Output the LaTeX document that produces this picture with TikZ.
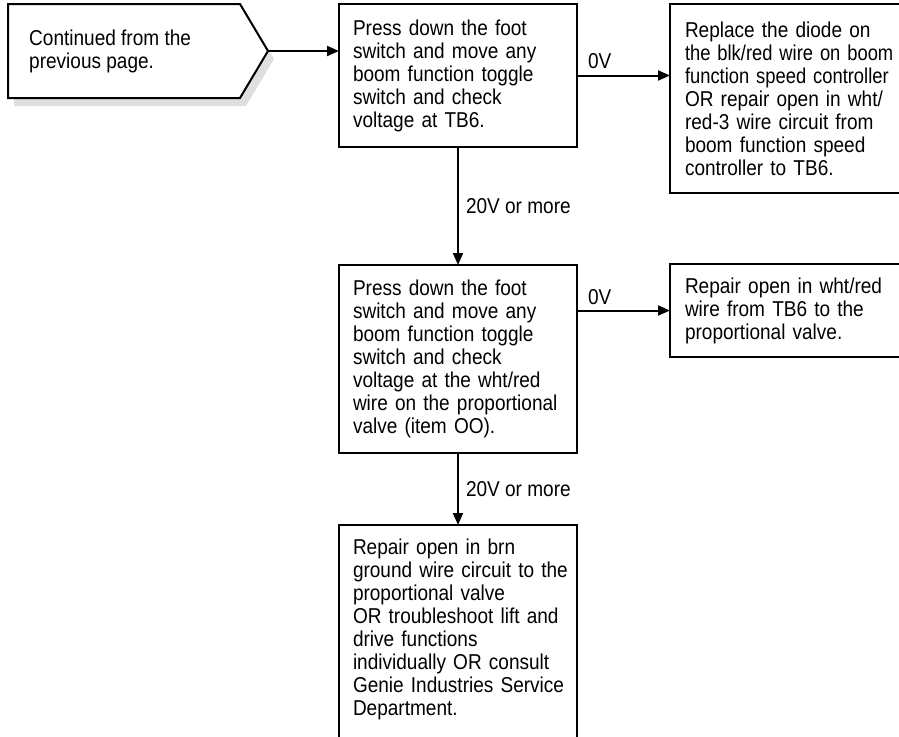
\documentclass[tikz,border=0pt]{standalone}
\usepackage{fontspec}
\usepackage{graphicx}
\setmainfont{Liberation Sans}[FakeStretch=0.885]
\usetikzlibrary{arrows.meta}
\newcommand\nb[1]{\mbox{#1}}
\newcommand\sq[1]{\scalebox{0.965}[1]{#1}}
\begin{document}
\begin{tikzpicture}[x=1pt,y=-1pt,
  txt/.style={font=\fontsize{21.5pt}{23pt}\selectfont},
  box/.style={txt, draw, line width=2pt, outer sep=0pt, anchor=north west, align=left,
              inner xsep=14pt, inner ysep=0pt, text width=210pt},
  rbox/.style={box, inner xsep=15pt, text width=230pt},
  conn/.style={line width=2pt, -{Triangle[length=12pt,width=10pt]}},
  lbl/.style={txt, inner sep=0pt, anchor=base west}]
\useasboundingbox (0,0) rectangle (899,736);
% start pentagon with shadow
\fill[gray!25] (14,12) -- (246,12) -- (274,59) -- (246,106) -- (14,106) -- cycle;
\draw[line width=2pt, fill=white, line join=miter] (8,4) -- (240,4) -- (268,51) -- (240,98) -- (8,98) -- cycle;
\node[txt, anchor=west, inner sep=0pt, align=left] (start) at (29,51) {Continued from the\\previous page.};
\coordinate (tip) at (268,51);
% boxes
\node[box, minimum height=143pt] (b1) at (339,4)
  {Press down the foot\\switch and move any\\boom function toggle\\switch and check\\voltage at TB6.};
\node[rbox, minimum height=189pt] (b2) at (670,4)
  {Replace the diode on\\\sq{the blk/red wire on boom}\\\sq{function speed controller}\\OR repair open in wht/\\red-3 wire circuit from\\boom function speed\\controller to TB6.};
\node[box, minimum height=188pt] (b3) at (339,265)
  {Press down the foot\\switch and move any\\boom function toggle\\switch and check\\\nb{voltage at the wht/red}\\\nb{wire on the proportional}\\valve (item OO).};
\node[rbox, minimum height=93pt] (b4) at (670,264)
  {Repair open in wht/red\\wire from TB6 to the\\proportional valve.};
\node[box, inner ysep=13.5pt, text depth=192pt] (b5) at (339,525)
  {Repair open in brn\\\nb{ground wire circuit to the}\\proportional valve\\\nb{OR troubleshoot lift and}\\drive functions\\\nb{individually OR consult}\\\nb{Genie Industries Service}\\Department.};
% connectors
\draw[conn] (tip) -- (tip -| b1.west);
\draw[conn] (b1.east) -- (b1.east -| b2.west)
  node[lbl, pos=0, xshift=10pt, yshift=7pt] (l1) {0V};
\draw[conn] (b1.south) -- (b3.north)
  node[txt, midway, anchor=west, inner sep=0pt, xshift=7pt] (l2) {20V or more};
\draw[conn] (b4.west -| b3.east) -- (b4.west)
  node[lbl, pos=0, xshift=10pt, yshift=6.5pt] (l3) {0V};
\draw[conn] (b3.south) -- (b5.north)
  node[txt, midway, anchor=west, inner sep=0pt, xshift=7pt] (l4) {20V or more};
\end{tikzpicture}
\end{document}
